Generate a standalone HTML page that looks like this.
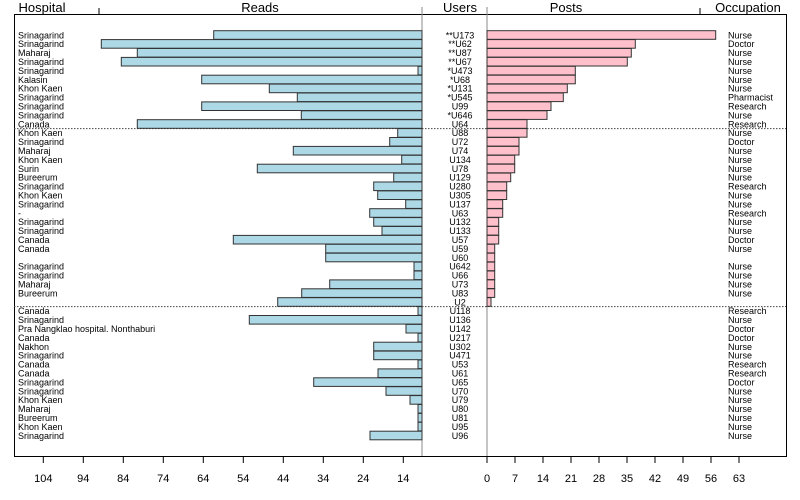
<!DOCTYPE html>
<html><head><meta charset="utf-8"><style>
html,body{margin:0;padding:0;background:#fff;}
svg{display:block;font-family:"Liberation Sans",sans-serif;}
.t{font-size:9px;fill:#000;}
.u{font-size:9px;fill:#000;text-anchor:middle;}
.l{fill:#add8e6;stroke:#333;stroke-width:1;}
.p{fill:#ffc0cb;stroke:#333;stroke-width:1;}
.h{font-size:13px;text-anchor:middle;}
.k{font-size:11px;text-anchor:middle;}
</style></head><body>
<svg width="800" height="500" viewBox="0 0 800 500">
<rect x="0" y="0" width="800" height="500" fill="#fff"/>
<!-- header -->
<line x1="14" y1="14.5" x2="786" y2="14.5" stroke="#000"/>
<line x1="99" y1="8" x2="99" y2="14" stroke="#000"/>
<line x1="700" y1="8" x2="700" y2="14" stroke="#000"/>
<text class="h" x="42" y="12">Hospital</text>
<text class="h" x="260" y="12">Reads</text>
<text class="h" x="460" y="12">Users</text>
<text class="h" x="566" y="12">Posts</text>
<text class="h" x="748" y="12">Occupation</text>
<!-- box -->
<line x1="14.5" y1="14" x2="14.5" y2="456" stroke="#000"/>
<line x1="786.5" y1="14" x2="786.5" y2="456" stroke="#000"/>
<line x1="14" y1="456.5" x2="787" y2="456.5" stroke="#000"/>
<line x1="422" y1="7" x2="422" y2="456" stroke="#888"/>
<line x1="487" y1="7" x2="487" y2="456" stroke="#888"/>
<!-- dotted separators -->
<line x1="14" y1="128.6" x2="786" y2="128.6" stroke="#444" stroke-dasharray="1.5,1.5"/>
<line x1="14" y1="306.6" x2="786" y2="306.6" stroke="#444" stroke-dasharray="1.5,1.5"/>

<g transform="translate(0,30.7)"><rect class="l" x="213.7" y="0" width="208.3" height="8.6"/><rect class="p" x="487" y="0" width="228.7" height="8.6"/><text class="t" x="18" y="7.6">Srinagarind</text><text class="u" x="460" y="7.6">**U173</text><text class="t" x="728" y="7.6">Nurse</text></g>
<g transform="translate(0,39.6)"><rect class="l" x="101.3" y="0" width="320.7" height="8.6"/><rect class="p" x="487" y="0" width="148.3" height="8.6"/><text class="t" x="18" y="7.6">Srinagarind</text><text class="u" x="460" y="7.6">**U62</text><text class="t" x="728" y="7.6">Doctor</text></g>
<g transform="translate(0,48.5)"><rect class="l" x="137.3" y="0" width="284.7" height="8.6"/><rect class="p" x="487" y="0" width="144.3" height="8.6"/><text class="t" x="18" y="7.6">Maharaj</text><text class="u" x="460" y="7.6">**U87</text><text class="t" x="728" y="7.6">Nurse</text></g>
<g transform="translate(0,57.4)"><rect class="l" x="121.3" y="0" width="300.7" height="8.6"/><rect class="p" x="487" y="0" width="140.3" height="8.6"/><text class="t" x="18" y="7.6">Srinagarind</text><text class="u" x="460" y="7.6">**U67</text><text class="t" x="728" y="7.6">Nurse</text></g>
<g transform="translate(0,66.3)"><rect class="l" x="418" y="0" width="4" height="8.6"/><rect class="p" x="487" y="0" width="88.3" height="8.6"/><text class="t" x="18" y="7.6">Srinagarind</text><text class="u" x="460" y="7.6">*U473</text><text class="t" x="728" y="7.6">Nurse</text></g>
<g transform="translate(0,75.2)"><rect class="l" x="201.7" y="0" width="220.3" height="8.6"/><rect class="p" x="487" y="0" width="88.3" height="8.6"/><text class="t" x="18" y="7.6">Kalasin</text><text class="u" x="460" y="7.6">*U68</text><text class="t" x="728" y="7.6">Nurse</text></g>
<g transform="translate(0,84.1)"><rect class="l" x="269.3" y="0" width="152.7" height="8.6"/><rect class="p" x="487" y="0" width="80.3" height="8.6"/><text class="t" x="18" y="7.6">Khon Kaen</text><text class="u" x="460" y="7.6">*U131</text><text class="t" x="728" y="7.6">Nurse</text></g>
<g transform="translate(0,93.0)"><rect class="l" x="297.3" y="0" width="124.7" height="8.6"/><rect class="p" x="487" y="0" width="76.3" height="8.6"/><text class="t" x="18" y="7.6">Srinagarind</text><text class="u" x="460" y="7.6">*U545</text><text class="t" x="728" y="7.6">Pharmacist</text></g>
<g transform="translate(0,101.9)"><rect class="l" x="201.7" y="0" width="220.3" height="8.6"/><rect class="p" x="487" y="0" width="64" height="8.6"/><text class="t" x="18" y="7.6">Srinagarind</text><text class="u" x="460" y="7.6">U99</text><text class="t" x="728" y="7.6">Research</text></g>
<g transform="translate(0,110.8)"><rect class="l" x="301.3" y="0" width="120.7" height="8.6"/><rect class="p" x="487" y="0" width="60" height="8.6"/><text class="t" x="18" y="7.6">Srinagarind</text><text class="u" x="460" y="7.6">*U646</text><text class="t" x="728" y="7.6">Nurse</text></g>
<g transform="translate(0,119.7)"><rect class="l" x="137.3" y="0" width="284.7" height="8.6"/><rect class="p" x="487" y="0" width="40" height="8.6"/><text class="t" x="18" y="7.6">Canada</text><text class="u" x="460" y="7.6">U64</text><text class="t" x="728" y="7.6">Research</text></g>
<g transform="translate(0,128.6)"><rect class="l" x="397.7" y="0" width="24.3" height="8.6"/><rect class="p" x="487" y="0" width="40" height="8.6"/><text class="t" x="18" y="7.6">Khon Kaen</text><text class="u" x="460" y="7.6">U88</text><text class="t" x="728" y="7.6">Nurse</text></g>
<g transform="translate(0,137.5)"><rect class="l" x="389.7" y="0" width="32.3" height="8.6"/><rect class="p" x="487" y="0" width="32" height="8.6"/><text class="t" x="18" y="7.6">Srinagarind</text><text class="u" x="460" y="7.6">U72</text><text class="t" x="728" y="7.6">Doctor</text></g>
<g transform="translate(0,146.4)"><rect class="l" x="293.3" y="0" width="128.7" height="8.6"/><rect class="p" x="487" y="0" width="32" height="8.6"/><text class="t" x="18" y="7.6">Maharaj</text><text class="u" x="460" y="7.6">U74</text><text class="t" x="728" y="7.6">Nurse</text></g>
<g transform="translate(0,155.3)"><rect class="l" x="401.7" y="0" width="20.3" height="8.6"/><rect class="p" x="487" y="0" width="27.7" height="8.6"/><text class="t" x="18" y="7.6">Khon Kaen</text><text class="u" x="460" y="7.6">U134</text><text class="t" x="728" y="7.6">Nurse</text></g>
<g transform="translate(0,164.2)"><rect class="l" x="257.3" y="0" width="164.7" height="8.6"/><rect class="p" x="487" y="0" width="27.7" height="8.6"/><text class="t" x="18" y="7.6">Surin</text><text class="u" x="460" y="7.6">U78</text><text class="t" x="728" y="7.6">Nurse</text></g>
<g transform="translate(0,173.1)"><rect class="l" x="393.7" y="0" width="28.3" height="8.6"/><rect class="p" x="487" y="0" width="23.7" height="8.6"/><text class="t" x="18" y="7.6">Bureerum</text><text class="u" x="460" y="7.6">U129</text><text class="t" x="728" y="7.6">Nurse</text></g>
<g transform="translate(0,182.0)"><rect class="l" x="373.7" y="0" width="48.3" height="8.6"/><rect class="p" x="487" y="0" width="19.7" height="8.6"/><text class="t" x="18" y="7.6">Srinagarind</text><text class="u" x="460" y="7.6">U280</text><text class="t" x="728" y="7.6">Research</text></g>
<g transform="translate(0,190.9)"><rect class="l" x="377.7" y="0" width="44.3" height="8.6"/><rect class="p" x="487" y="0" width="19.7" height="8.6"/><text class="t" x="18" y="7.6">Khon Kaen</text><text class="u" x="460" y="7.6">U305</text><text class="t" x="728" y="7.6">Nurse</text></g>
<g transform="translate(0,199.8)"><rect class="l" x="405.7" y="0" width="16.3" height="8.6"/><rect class="p" x="487" y="0" width="15.7" height="8.6"/><text class="t" x="18" y="7.6">Srinagarind</text><text class="u" x="460" y="7.6">U137</text><text class="t" x="728" y="7.6">Nurse</text></g>
<g transform="translate(0,208.7)"><rect class="l" x="369.7" y="0" width="52.3" height="8.6"/><rect class="p" x="487" y="0" width="15.7" height="8.6"/><text class="t" x="18" y="7.6">-</text><text class="u" x="460" y="7.6">U63</text><text class="t" x="728" y="7.6">Research</text></g>
<g transform="translate(0,217.6)"><rect class="l" x="373.7" y="0" width="48.3" height="8.6"/><rect class="p" x="487" y="0" width="11.7" height="8.6"/><text class="t" x="18" y="7.6">Srinagarind</text><text class="u" x="460" y="7.6">U132</text><text class="t" x="728" y="7.6">Nurse</text></g>
<g transform="translate(0,226.5)"><rect class="l" x="382" y="0" width="40" height="8.6"/><rect class="p" x="487" y="0" width="11.7" height="8.6"/><text class="t" x="18" y="7.6">Srinagarind</text><text class="u" x="460" y="7.6">U133</text><text class="t" x="728" y="7.6">Nurse</text></g>
<g transform="translate(0,235.4)"><rect class="l" x="233.3" y="0" width="188.7" height="8.6"/><rect class="p" x="487" y="0" width="11.7" height="8.6"/><text class="t" x="18" y="7.6">Canada</text><text class="u" x="460" y="7.6">U57</text><text class="t" x="728" y="7.6">Doctor</text></g>
<g transform="translate(0,244.3)"><rect class="l" x="325.7" y="0" width="96.3" height="8.6"/><rect class="p" x="487" y="0" width="7.7" height="8.6"/><text class="t" x="18" y="7.6">Canada</text><text class="u" x="460" y="7.6">U59</text><text class="t" x="728" y="7.6">Nurse</text></g>
<g transform="translate(0,253.2)"><rect class="l" x="325.7" y="0" width="96.3" height="8.6"/><rect class="p" x="487" y="0" width="7.7" height="8.6"/><text class="u" x="460" y="7.6">U60</text></g>
<g transform="translate(0,262.1)"><rect class="l" x="414" y="0" width="8" height="8.6"/><rect class="p" x="487" y="0" width="7.7" height="8.6"/><text class="t" x="18" y="7.6">Srinagarind</text><text class="u" x="460" y="7.6">U642</text><text class="t" x="728" y="7.6">Nurse</text></g>
<g transform="translate(0,271.0)"><rect class="l" x="414" y="0" width="8" height="8.6"/><rect class="p" x="487" y="0" width="7.7" height="8.6"/><text class="t" x="18" y="7.6">Srinagarind</text><text class="u" x="460" y="7.6">U66</text><text class="t" x="728" y="7.6">Nurse</text></g>
<g transform="translate(0,279.9)"><rect class="l" x="329.7" y="0" width="92.3" height="8.6"/><rect class="p" x="487" y="0" width="7.7" height="8.6"/><text class="t" x="18" y="7.6">Maharaj</text><text class="u" x="460" y="7.6">U73</text><text class="t" x="728" y="7.6">Nurse</text></g>
<g transform="translate(0,288.8)"><rect class="l" x="301.7" y="0" width="120.3" height="8.6"/><rect class="p" x="487" y="0" width="7.7" height="8.6"/><text class="t" x="18" y="7.6">Bureerum</text><text class="u" x="460" y="7.6">U83</text><text class="t" x="728" y="7.6">Nurse</text></g>
<g transform="translate(0,297.7)"><rect class="l" x="277.7" y="0" width="144.3" height="8.6"/><rect class="p" x="487" y="0" width="4" height="8.6"/><text class="u" x="460" y="7.6">U2</text></g>
<g transform="translate(0,306.6)"><rect class="l" x="418" y="0" width="4" height="8.6"/><text class="t" x="18" y="7.6">Canada</text><text class="u" x="460" y="7.6">U118</text><text class="t" x="728" y="7.6">Research</text></g>
<g transform="translate(0,315.5)"><rect class="l" x="249.3" y="0" width="172.7" height="8.6"/><text class="t" x="18" y="7.6">Srinagarind</text><text class="u" x="460" y="7.6">U136</text><text class="t" x="728" y="7.6">Nurse</text></g>
<g transform="translate(0,324.4)"><rect class="l" x="406" y="0" width="16" height="8.6"/><text class="t" x="18" y="7.6">Pra Nangklao hospital. Nonthaburi</text><text class="u" x="460" y="7.6">U142</text><text class="t" x="728" y="7.6">Doctor</text></g>
<g transform="translate(0,333.3)"><rect class="l" x="418" y="0" width="4" height="8.6"/><text class="t" x="18" y="7.6">Canada</text><text class="u" x="460" y="7.6">U217</text><text class="t" x="728" y="7.6">Doctor</text></g>
<g transform="translate(0,342.2)"><rect class="l" x="373.7" y="0" width="48.3" height="8.6"/><text class="t" x="18" y="7.6">Nakhon</text><text class="u" x="460" y="7.6">U302</text><text class="t" x="728" y="7.6">Nurse</text></g>
<g transform="translate(0,351.1)"><rect class="l" x="373.7" y="0" width="48.3" height="8.6"/><text class="t" x="18" y="7.6">Srinagarind</text><text class="u" x="460" y="7.6">U471</text><text class="t" x="728" y="7.6">Nurse</text></g>
<g transform="translate(0,360.0)"><rect class="l" x="418" y="0" width="4" height="8.6"/><text class="t" x="18" y="7.6">Canada</text><text class="u" x="460" y="7.6">U53</text><text class="t" x="728" y="7.6">Research</text></g>
<g transform="translate(0,368.9)"><rect class="l" x="378" y="0" width="44" height="8.6"/><text class="t" x="18" y="7.6">Canada</text><text class="u" x="460" y="7.6">U61</text><text class="t" x="728" y="7.6">Research</text></g>
<g transform="translate(0,377.8)"><rect class="l" x="313.7" y="0" width="108.3" height="8.6"/><text class="t" x="18" y="7.6">Srinagarind</text><text class="u" x="460" y="7.6">U65</text><text class="t" x="728" y="7.6">Doctor</text></g>
<g transform="translate(0,386.7)"><rect class="l" x="386" y="0" width="36" height="8.6"/><text class="t" x="18" y="7.6">Srinagarind</text><text class="u" x="460" y="7.6">U70</text><text class="t" x="728" y="7.6">Nurse</text></g>
<g transform="translate(0,395.6)"><rect class="l" x="410" y="0" width="12" height="8.6"/><text class="t" x="18" y="7.6">Khon Kaen</text><text class="u" x="460" y="7.6">U79</text><text class="t" x="728" y="7.6">Nurse</text></g>
<g transform="translate(0,404.5)"><rect class="l" x="418" y="0" width="4" height="8.6"/><text class="t" x="18" y="7.6">Maharaj</text><text class="u" x="460" y="7.6">U80</text><text class="t" x="728" y="7.6">Nurse</text></g>
<g transform="translate(0,413.4)"><rect class="l" x="418" y="0" width="4" height="8.6"/><text class="t" x="18" y="7.6">Bureerum</text><text class="u" x="460" y="7.6">U81</text><text class="t" x="728" y="7.6">Nurse</text></g>
<g transform="translate(0,422.3)"><rect class="l" x="418" y="0" width="4" height="8.6"/><text class="t" x="18" y="7.6">Khon Kaen</text><text class="u" x="460" y="7.6">U95</text><text class="t" x="728" y="7.6">Nurse</text></g>
<g transform="translate(0,431.2)"><rect class="l" x="370" y="0" width="52" height="8.6"/><text class="t" x="18" y="7.6">Srinagarind</text><text class="u" x="460" y="7.6">U96</text><text class="t" x="728" y="7.6">Nurse</text></g>

<!-- bottom ticks -->
<g stroke="#000">
<line x1="43.3" y1="456" x2="43.3" y2="463"/><line x1="83.3" y1="456" x2="83.3" y2="463"/><line x1="123.3" y1="456" x2="123.3" y2="463"/><line x1="163.3" y1="456" x2="163.3" y2="463"/><line x1="203.3" y1="456" x2="203.3" y2="463"/><line x1="243.3" y1="456" x2="243.3" y2="463"/><line x1="283.3" y1="456" x2="283.3" y2="463"/><line x1="323.3" y1="456" x2="323.3" y2="463"/><line x1="363.3" y1="456" x2="363.3" y2="463"/><line x1="403.3" y1="456" x2="403.3" y2="463"/>
<line x1="487" y1="456" x2="487" y2="463"/><line x1="515" y1="456" x2="515" y2="463"/><line x1="543" y1="456" x2="543" y2="463"/><line x1="571" y1="456" x2="571" y2="463"/><line x1="599" y1="456" x2="599" y2="463"/><line x1="627" y1="456" x2="627" y2="463"/><line x1="655" y1="456" x2="655" y2="463"/><line x1="683" y1="456" x2="683" y2="463"/><line x1="711" y1="456" x2="711" y2="463"/><line x1="739" y1="456" x2="739" y2="463"/>
</g>
<g class="k">
<text class="k" x="43.3" y="482">104</text><text class="k" x="83.3" y="482">94</text><text class="k" x="123.3" y="482">84</text><text class="k" x="163.3" y="482">74</text><text class="k" x="203.3" y="482">64</text><text class="k" x="243.3" y="482">54</text><text class="k" x="283.3" y="482">44</text><text class="k" x="323.3" y="482">34</text><text class="k" x="363.3" y="482">24</text><text class="k" x="403.3" y="482">14</text>
<text class="k" x="487" y="482">0</text><text class="k" x="515" y="482">7</text><text class="k" x="543" y="482">14</text><text class="k" x="571" y="482">21</text><text class="k" x="599" y="482">28</text><text class="k" x="627" y="482">35</text><text class="k" x="655" y="482">42</text><text class="k" x="683" y="482">49</text><text class="k" x="711" y="482">56</text><text class="k" x="739" y="482">63</text>
</g>
</svg>
</body></html>
